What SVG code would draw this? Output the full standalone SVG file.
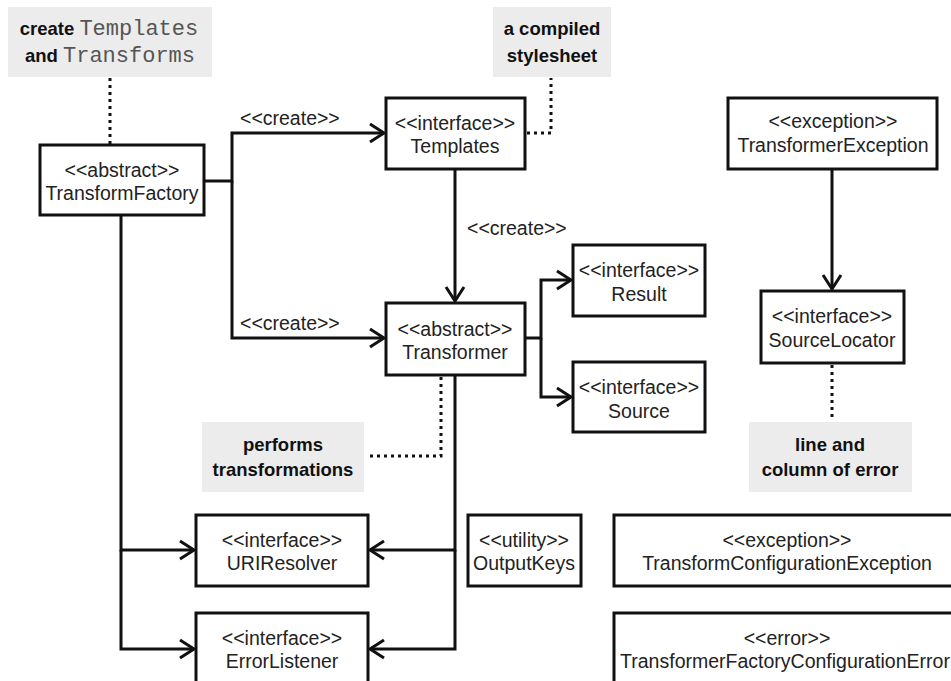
<svg xmlns="http://www.w3.org/2000/svg" width="951" height="681" viewBox="0 0 951 681">
<defs>
<style>
.box{fill:#fff;stroke:#111;stroke-width:3}
.note{fill:#ececec;stroke:none}
.t{font-family:"Liberation Sans",Arial,sans-serif;font-size:19.5px;fill:#222;text-anchor:middle}
.lbl{font-family:"Liberation Sans",Arial,sans-serif;font-size:19.5px;fill:#222}
.nt{font-family:"Liberation Sans",Arial,sans-serif;font-size:18.5px;font-weight:bold;fill:#111;text-anchor:middle}
.mono{font-family:"Liberation Mono","Courier New",monospace;font-size:22px;font-weight:normal;fill:#555}
.c{fill:none;stroke:#111;stroke-width:3}
.d{fill:none;stroke:#111;stroke-width:3;stroke-dasharray:3 4}
</style>
<marker id="arr" markerUnits="userSpaceOnUse" viewBox="-18 -12 22 24" markerWidth="22" markerHeight="24" refX="0" refY="0" orient="auto" overflow="visible">
<path d="M-14,-9 L0,0 L-14,9" fill="none" stroke="#111" stroke-width="3"/>
</marker>
</defs>
<rect width="951" height="681" fill="#fff"/>

<g id="connectors">
<path class="c" d="M204,181 H232 V133 H384" marker-end="url(#arr)"/>
<path class="c" d="M232,181 V338 H384" marker-end="url(#arr)"/>
<path class="c" d="M455,169 V301" marker-end="url(#arr)"/>
<path class="c" d="M525,338 H541 V280 H571" marker-end="url(#arr)"/>
<path class="c" d="M541,338 V397 H571" marker-end="url(#arr)"/>
<path class="c" d="M832,169 V289" marker-end="url(#arr)"/>
<path class="c" d="M121,215 V550 H194" marker-end="url(#arr)"/>
<path class="c" d="M121,550 V649 H194" marker-end="url(#arr)"/>
<path class="c" d="M455,375 V550 H370" marker-end="url(#arr)"/>
<path class="c" d="M455,550 V649 H370" marker-end="url(#arr)"/>
<path class="d" d="M110,78 V144"/>
<path class="d" d="M527,133 H551 V78"/>
<path class="d" d="M441,377 V456 H366"/>
<path class="d" d="M832,365 V421"/>
<text class="lbl" x="240" y="125">&lt;&lt;create&gt;&gt;</text>
<text class="lbl" x="467" y="235">&lt;&lt;create&gt;&gt;</text>
<text class="lbl" x="240" y="330">&lt;&lt;create&gt;&gt;</text>
</g>

<g id="note-factory">
<rect class="note" x="8" y="7" width="204" height="70"/>
<text class="nt" x="109" y="35">create <tspan class="mono">Templates</tspan></text>
<text class="nt" x="110" y="62">and <tspan class="mono">Transforms</tspan></text>
</g>
<g id="note-stylesheet">
<rect class="note" x="493" y="7" width="118" height="70"/>
<text class="nt" x="552" y="35">a compiled</text>
<text class="nt" x="552" y="62">stylesheet</text>
</g>
<g id="note-performs">
<rect class="note" x="202" y="422" width="162" height="70"/>
<text class="nt" x="283" y="451">performs</text>
<text class="nt" x="283" y="476">transformations</text>
</g>
<g id="note-error">
<rect class="note" x="749" y="422" width="163" height="70"/>
<text class="nt" x="830" y="451">line and</text>
<text class="nt" x="830" y="476">column of error</text>
</g>

<g id="TransformFactory">
<rect class="box" x="40" y="145" width="164" height="70"/>
<text class="t" x="122" y="177">&lt;&lt;abstract&gt;&gt;</text>
<text class="t" x="122" y="200">TransformFactory</text>
</g>
<g id="Templates">
<rect class="box" x="386" y="98" width="139" height="71"/>
<text class="t" x="455" y="130">&lt;&lt;interface&gt;&gt;</text>
<text class="t" x="455" y="153">Templates</text>
</g>
<g id="Transformer">
<rect class="box" x="386" y="303" width="139" height="72"/>
<text class="t" x="455" y="336">&lt;&lt;abstract&gt;&gt;</text>
<text class="t" x="455" y="359">Transformer</text>
</g>
<g id="Result">
<rect class="box" x="573" y="245" width="132" height="71"/>
<text class="t" x="639" y="277">&lt;&lt;interface&gt;&gt;</text>
<text class="t" x="639" y="301">Result</text>
</g>
<g id="Source">
<rect class="box" x="573" y="362" width="132" height="70"/>
<text class="t" x="639" y="394">&lt;&lt;interface&gt;&gt;</text>
<text class="t" x="639" y="418">Source</text>
</g>
<g id="TransformerException">
<rect class="box" x="728" y="98" width="209" height="71"/>
<text class="t" x="833" y="128">&lt;&lt;exception&gt;&gt;</text>
<text class="t" x="833" y="152">TransformerException</text>
</g>
<g id="SourceLocator">
<rect class="box" x="761" y="291" width="143" height="72"/>
<text class="t" x="832" y="323">&lt;&lt;interface&gt;&gt;</text>
<text class="t" x="832" y="347">SourceLocator</text>
</g>
<g id="URIResolver">
<rect class="box" x="196" y="515" width="172" height="71"/>
<text class="t" x="282" y="547">&lt;&lt;interface&gt;&gt;</text>
<text class="t" x="282" y="570">URIResolver</text>
</g>
<g id="ErrorListener">
<rect class="box" x="196" y="613" width="172" height="72"/>
<text class="t" x="282" y="645">&lt;&lt;interface&gt;&gt;</text>
<text class="t" x="282" y="668">ErrorListener</text>
</g>
<g id="OutputKeys">
<rect class="box" x="468" y="515" width="113" height="71"/>
<text class="t" x="524" y="547">&lt;&lt;utility&gt;&gt;</text>
<text class="t" x="524" y="570">OutputKeys</text>
</g>
<g id="TransformConfigurationException">
<rect class="box" x="614" y="515" width="342" height="71"/>
<text class="t" x="787" y="547">&lt;&lt;exception&gt;&gt;</text>
<text class="t" x="787" y="570">TransformConfigurationException</text>
</g>
<g id="TransformerFactoryConfigurationError">
<rect class="box" x="614" y="613" width="342" height="72"/>
<text class="t" x="787" y="645">&lt;&lt;error&gt;&gt;</text>
<text class="t" x="785" y="668">TransformerFactoryConfigurationError</text>
</g>
</svg>
